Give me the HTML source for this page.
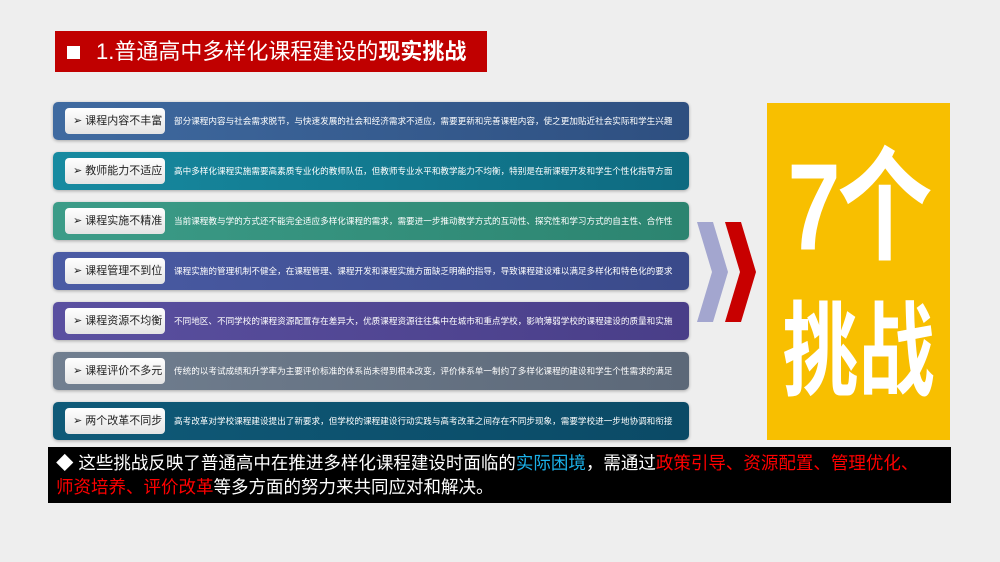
<!DOCTYPE html>
<html><head><meta charset="utf-8"><style>
*{margin:0;padding:0;box-sizing:border-box}
body{width:1000px;height:562px;overflow:hidden;background:#eeeeee;position:relative;font-family:"Liberation Sans","Noto Sans CJK SC",sans-serif}
.title{position:absolute;left:55px;top:31px;width:432px;height:41px;background:#c00000;color:#fff;font-size:22px;line-height:41px;padding-left:12px}
.title .sq{display:inline-block;width:13px;height:13px;background:#fff;margin-right:16px;vertical-align:0px}
.row{position:absolute;left:53px;width:636px;height:38px;border-radius:5px;box-shadow:0 1px 3px rgba(0,0,0,.3)}
.lab{position:absolute;left:12px;top:6px;width:100px;height:26px;background:linear-gradient(#fff,#e4e4e4);border-radius:4px;font-size:11px;line-height:26px;color:#222;padding-left:8px;white-space:nowrap}
.txt{position:absolute;left:121px;top:0;line-height:38px;font-size:8.6px;color:#fff;white-space:nowrap}
.yel{position:absolute;left:767px;top:103px;width:183px;height:337px;background:#f8bf00;color:#fff;font-weight:bold;text-align:center;white-space:nowrap;overflow:hidden}
.yel div{position:absolute;left:0;width:183px}
.bot{position:absolute;left:48px;top:447px;width:903px;height:56px;background:#000;color:#fff;font-size:17.5px;line-height:24px;padding:4px 0 0 8px;white-space:nowrap}
.b{color:#1ab0e8}.r{color:#ff0000}
</style></head><body>
<div class="title"><span class="sq"></span>1.普通高中多样化课程建设的<b>现实挑战</b></div>

<div class="row" style="top:102px;background:linear-gradient(90deg,#3f6aa0,#2e4f80)"><div class="lab">➢ 课程内容不丰富</div><div class="txt">部分课程内容与社会需求脱节，与快速发展的社会和经济需求不适应，需要更新和完善课程内容，使之更加贴近社会实际和学生兴趣</div></div>
<div class="row" style="top:152px;background:linear-gradient(90deg,#178aa0,#0e6a80)"><div class="lab">➢ 教师能力不适应</div><div class="txt">高中多样化课程实施需要高素质专业化的教师队伍，但教师专业水平和教学能力不均衡，特别是在新课程开发和学生个性化指导方面</div></div>
<div class="row" style="top:202px;background:linear-gradient(90deg,#3c9c88,#2c8470)"><div class="lab">➢ 课程实施不精准</div><div class="txt">当前课程教与学的方式还不能完全适应多样化课程的需求，需要进一步推动教学方式的互动性、探究性和学习方式的自主性、合作性</div></div>
<div class="row" style="top:252px;background:linear-gradient(90deg,#4a5ba4,#3a4a8a)"><div class="lab">➢ 课程管理不到位</div><div class="txt">课程实施的管理机制不健全，在课程管理、课程开发和课程实施方面缺乏明确的指导，导致课程建设难以满足多样化和特色化的要求</div></div>
<div class="row" style="top:302px;background:linear-gradient(90deg,#5a50a0,#493e88)"><div class="lab">➢ 课程资源不均衡</div><div class="txt">不同地区、不同学校的课程资源配置存在差异大，优质课程资源往往集中在城市和重点学校，影响薄弱学校的课程建设的质量和实施</div></div>
<div class="row" style="top:352px;background:linear-gradient(90deg,#717f90,#5c6878)"><div class="lab">➢ 课程评价不多元</div><div class="txt">传统的以考试成绩和升学率为主要评价标准的体系尚未得到根本改变，评价体系单一制约了多样化课程的建设和学生个性需求的满足</div></div>
<div class="row" style="top:402px;background:linear-gradient(90deg,#0f5a78,#0b4a66)"><div class="lab">➢ 两个改革不同步</div><div class="txt">高考改革对学校课程建设提出了新要求，但学校的课程建设行动实践与高考改革之间存在不同步现象，需要学校进一步地协调和衔接</div></div>

<svg style="position:absolute;left:0;top:0" width="1000" height="562">
<polygon points="697,222 713,222 728,272 713,322 697,322 712,272" fill="#a3a6cf"/>
<polygon points="725,222 741,222 756,272 741,322 725,322 740,272" fill="#c80000"/>
</svg>

<div class="yel"><div style="top:50px;font-size:95px;line-height:110px;letter-spacing:-3px;transform:scaleY(1.3)">7个</div><div style="top:200px;font-size:76px;line-height:100px;transform:scaleY(1.35)">挑战</div></div>

<div class="bot">◆ 这些挑战反映了普通高中在推进多样化课程建设时面临的<span class="b">实际困境</span>，需通过<span class="r">政策引导、资源配置、管理优化、</span><br><span class="r">师资培养、评价改革</span>等多方面的努力来共同应对和解决。</div>
</body></html>
